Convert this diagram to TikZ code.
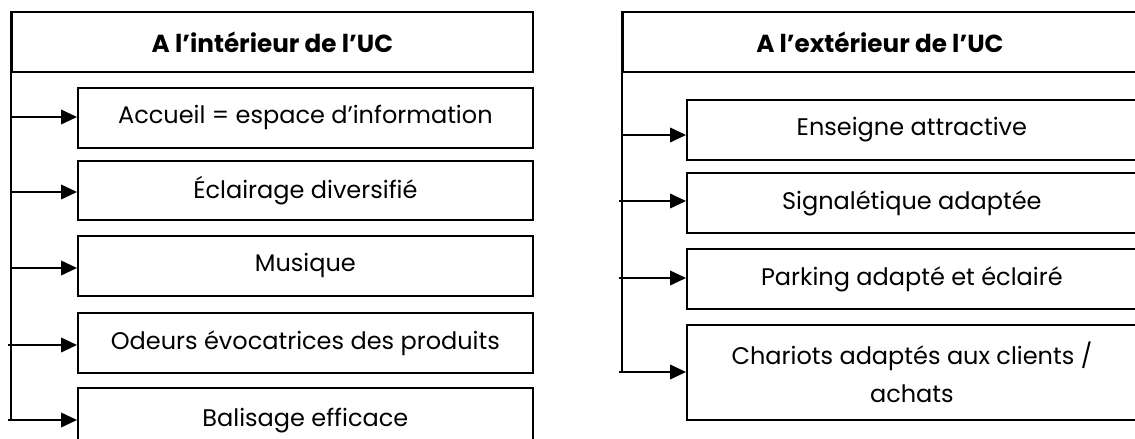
\documentclass[tikz,border=0pt]{standalone}
\usepackage{fontspec}
\setmainfont{Poppins}
\usetikzlibrary{arrows.meta}
\begin{document}
\begin{tikzpicture}[x=0.75pt,y=-0.75pt,
  line width=1.3pt,
  frame/.style={draw, rectangle, inner sep=0pt, anchor=north west,
    align=center, font=\fontsize{18}{28.5}\selectfont},
  header/.style={frame, font=\fontsize{18.5}{28.5}\selectfont\bfseries},
  feed/.style={-{Triangle[length=12pt,width=11pt]}}
]
\useasboundingbox (0,0) rectangle (1135,439);

% inside the store
\node[header, minimum width=390.75pt, minimum height=45pt] (hin) at (11,11) {A l’intérieur de l’UC};
\node[frame, minimum width=341.25pt, minimum height=45pt]   (i1) at (77,87)  {Accueil = espace d’information};
\node[frame, minimum width=341.25pt, minimum height=44.25pt] (i2) at (77,160) {Éclairage diversifié};
\node[frame, minimum width=341.25pt, minimum height=45pt]   (i3) at (77,235) {Musique};
\node[frame, minimum width=341.25pt, minimum height=45pt]   (i4) at (77,312) {Odeurs évocatrices des produits};
\node[frame, minimum width=341.25pt, minimum height=49.5pt] (i5) at (77,387) {Balisage efficace};

\coordinate (ib) at (11,420);
\coordinate (ia1) at (11,117);
\coordinate (ia2) at (11,192);
\coordinate (ia3) at (11,268);
\coordinate (ia4) at (8,345);
\coordinate (ia5) at (8,420);
\draw (hin.north west) -- (ib);
\draw[feed] (ia1) -- (i1.west |- ia1);
\draw[feed] (ia2) -- (i2.west |- ia2);
\draw[feed] (ia3) -- (i3.west |- ia3);
\draw[feed] (ia4) -- (i4.west |- ia4);
\draw[feed] (ia5) -- (i5.west |- ia5);

% outside the store
\node[header, minimum width=385.5pt, minimum height=45pt] (hout) at (622,11) {A l’extérieur de l’UC};
\node[frame, minimum width=337.5pt, minimum height=45pt]   (o1) at (686,99)  {Enseigne attractive};
\node[frame, minimum width=337.5pt, minimum height=45pt]   (o2) at (686,172) {Signalétique adaptée};
\node[frame, minimum width=337.5pt, minimum height=45pt]   (o3) at (686,248) {Parking adapté et éclairé};
\node[frame, minimum width=337.5pt, minimum height=71.25pt] (o4) at (686,324) {Chariots adaptés aux clients /\\achats};

\coordinate (ob) at (622,372);
\coordinate (oa1) at (622,135);
\coordinate (oa2) at (619,201);
\coordinate (oa3) at (619,278);
\coordinate (oa4) at (619,372);
\draw (hout.north west) -- (ob);
\draw[feed] (oa1) -- (o1.west |- oa1);
\draw[feed] (oa2) -- (o2.west |- oa2);
\draw[feed] (oa3) -- (o3.west |- oa3);
\draw[feed] (oa4) -- (o4.west |- oa4);
\end{tikzpicture}
\end{document}
